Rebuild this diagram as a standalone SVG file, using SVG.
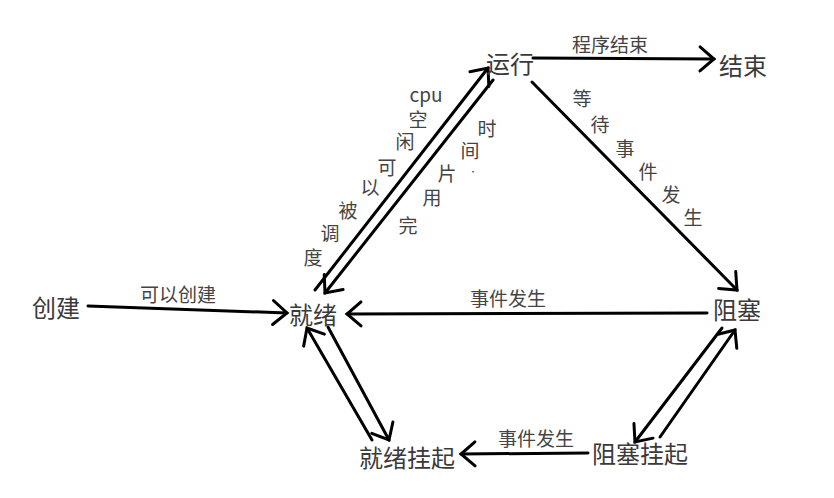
<svg xmlns="http://www.w3.org/2000/svg" width="834" height="498" viewBox="0 0 834 498">
<style>
.node{font-family:"Noto Sans CJK SC","Liberation Serif",serif;font-size:24px;fill:#3a3a3a;text-anchor:middle;dominant-baseline:central}
.lbl{font-family:"Noto Sans CJK SC","Liberation Sans",sans-serif;font-size:19px;fill:#444;text-anchor:middle;dominant-baseline:central}
.ln{stroke:#000;stroke-width:3;fill:none;stroke-linecap:round;marker-end:url(#ah)}
</style>
<defs>
<marker id="ah" markerUnits="userSpaceOnUse" markerWidth="30" markerHeight="30" viewBox="-16 -15 20 30" refX="0" refY="0" orient="auto">
<path d="M-14,-12 L0,0 L-14,12" fill="none" stroke="#000" stroke-width="3" stroke-linecap="round" stroke-linejoin="miter"/>
</marker>
</defs>
<rect width="834" height="498" fill="#fff"/>
<g id="connectors">
<line class="ln" x1="88" y1="306" x2="287" y2="313"/>
<line class="ln" x1="533" y1="58" x2="714" y2="59"/>
<line class="ln" x1="532" y1="82" x2="737" y2="290"/>
<line class="ln" x1="707" y1="313" x2="347" y2="314"/>
<line class="ln" x1="315" y1="290" x2="488" y2="68"/>
<line class="ln" x1="493" y1="80" x2="325" y2="293"/>
<line class="ln" x1="372" y1="440" x2="307" y2="328"/>
<line class="ln" x1="328" y1="327" x2="389" y2="440"/>
<line class="ln" x1="722" y1="328" x2="635" y2="442"/>
<line class="ln" x1="660" y1="437" x2="735" y2="330"/>
<line class="ln" x1="588" y1="453" x2="461" y2="454"/>
<text class="lbl" x="610" y="43">程序结束</text>
<text class="lbl" x="178" y="293">可以创建</text>
<text class="lbl" x="508" y="297">事件发生</text>
<text class="lbl" x="536" y="437">事件发生</text>
<text class="lbl" x="426" y="93">cpu</text>
<text class="lbl" x="418" y="118">空</text>
<text class="lbl" x="405" y="140">闲</text>
<text class="lbl" x="387" y="166">可</text>
<text class="lbl" x="370" y="186">以</text>
<text class="lbl" x="348" y="209">被</text>
<text class="lbl" x="330" y="232">调</text>
<text class="lbl" x="313" y="256">度</text>
<text class="lbl" x="487" y="127">时</text>
<text class="lbl" x="470" y="149">间</text>
<text class="lbl" x="473" y="171" style="font-size:8px">·</text>
<text class="lbl" x="447" y="172">片</text>
<text class="lbl" x="432" y="196">用</text>
<text class="lbl" x="408" y="224">完</text>
<text class="lbl" x="582" y="97">等</text>
<text class="lbl" x="600" y="123">待</text>
<text class="lbl" x="625" y="147">事</text>
<text class="lbl" x="648" y="170">件</text>
<text class="lbl" x="671" y="193">发</text>
<text class="lbl" x="693" y="216">生</text>
</g>
<g id="n-create"><text class="node" x="56" y="306">创建</text></g>
<g id="n-ready"><text class="node" x="313" y="313">就绪</text></g>
<g id="n-run"><text class="node" x="510" y="62">运行</text></g>
<g id="n-end"><text class="node" x="743" y="64">结束</text></g>
<g id="n-block"><text class="node" x="737" y="308">阻塞</text></g>
<g id="n-readysusp"><text class="node" x="407" y="456">就绪挂起</text></g>
<g id="n-blocksusp"><text class="node" x="640" y="452">阻塞挂起</text></g>
</svg>
